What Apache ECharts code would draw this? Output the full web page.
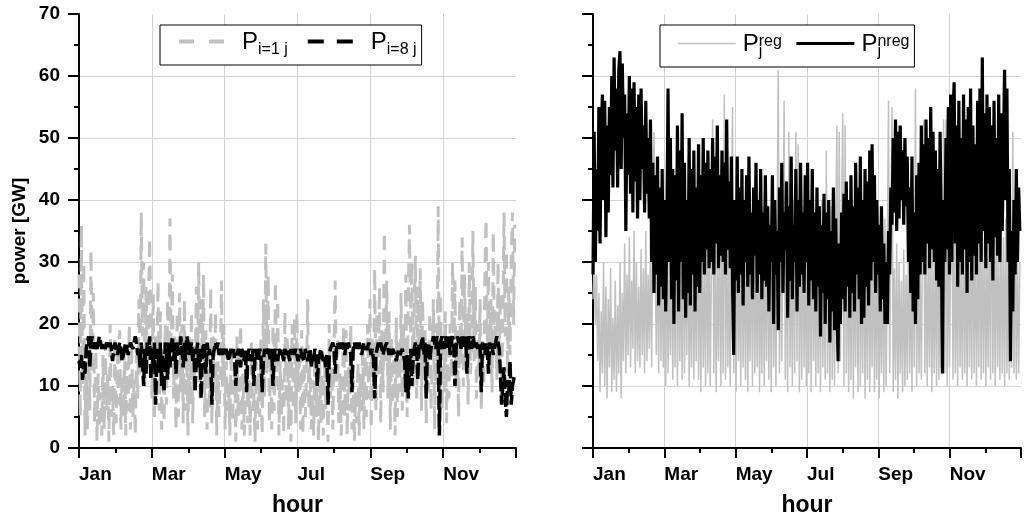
<!DOCTYPE html>
<html>
<head>
<meta charset="utf-8">
<script src="https://cdn.jsdelivr.net/npm/echarts@6/dist/echarts.min.js"></script>
<style>
  html, body { margin: 0; padding: 0; background: #fff; }
  #chart { width: 1024px; height: 522px; }
</style>
</head>
<body>
<div id="chart"></div>
<script>
// Month tick labels (one major tick every two months, minor tick in between)
const MONTHS = ['Jan', 'Feb', 'Mar', 'Apr', 'May', 'Jun', 'Jul', 'Aug', 'Sep', 'Oct', 'Nov', 'Dec'];
const HOURS_PER_YEAR = 8760;
const SAMPLE_STEP_H = 24; // one sample per day

// Power of unit i=1 [GW], daily samples
const pI1 = [
  28,5,36,10,30,2,14,3,18,6,
  32,12,25,4,16,1,12,3,9,2,
  15,3,17,6,12,1,20,5,10,2,
  18,4,15,7,19,3,12,5,16,2,
  14,6,20,3,17,5,11,2,15,8,
  24,12,38,18,30,10,26,14,22,34,
  20,8,25,5,18,12,27,6,22,3,
  16,4,20,7,24,12,37,15,28,8,
  18,3,22,5,25,9,20,4,24,6,
  15,2,18,7,22,4,17,9,26,12,
  30,8,24,14,28,5,19,3,15,6,
  26,4,18,9,22,2,14,5,12,27,
  10,20,3,14,6,11,2,16,4,9,
  13,1,18,5,10,20,3,12,2,8,
  15,4,11,2,17,6,9,1,14,3,
  12,5,18,2,24,8,33,12,28,4,
  16,3,20,6,27,10,24,2,14,5,
  11,2,22,7,18,3,15,1,20,6,
  21,4,22,9,16,3,19,2,14,5,
  12,24,6,15,3,11,2,15,5,13,
  1,14,4,12,2,15,6,10,1,20,
  8,13,3,16,27,10,18,4,12,2,
  9,20,5,19,2,13,6,20,3,11,
  1,9,4,14,2,12,6,17,3,15,
  5,20,8,24,3,18,10,29,6,22,
  12,26,4,19,9,35,14,27,8,22,
  3,18,7,15,2,21,5,17,9,25,
  6,20,12,28,5,24,36,18,30,10,
  22,31,8,26,14,29,6,24,11,19,
  4,17,9,22,6,14,24,3,20,10,
  39,12,25,6,18,9,22,4,16,8,
  20,11,30,14,27,9,19,5,24,13,
  34,10,28,16,22,7,30,12,18,35,
  14,26,8,20,11,24,6,18,10,28,
  37,15,30,12,24,9,35,16,22,11,
  30,14,25,10,20,38,18,32,12,26,
  15,30,38,20,36
];

// Power of unit i=8 [GW], daily samples
const pI8 = [
  14,13,15,11,14,12,16,17,18,13,
  17,18,16,17,17,16,17,18,17,16,
  17,17,16,17,17,16,17,16,14,16,
  17,16,15,16,17,16,14,15,16,17,
  16,15,16,17,17,16,17,18,17,15,
  16,13,17,14,10,16,12,17,15,18,
  11,16,13,17,7,14,16,12,17,10,
  15,9,17,16,11,17,13,16,18,14,
  17,12,16,17,15,18,16,13,17,14,
  18,17,15,16,17,14,16,9,15,17,
  13,16,8,15,17,16,12,17,15,16,
  14,7,15,16,17,16,17,15,16,15,
  16,16,15,16,15,14,15,16,15,16,
  14,10,15,16,15,13,16,15,14,16,
  9,15,16,15,14,16,10,15,16,14,
  15,16,15,9,14,16,15,15,16,15,
  14,16,10,15,16,15,14,16,15,16,
  15,14,16,15,16,15,14,16,15,16,
  15,16,15,14,15,16,15,15,14,16,
  15,14,15,16,13,15,14,16,15,10,
  14,15,16,15,14,15,13,15,7,15,
  16,16,17,16,12,16,17,16,17,16,
  17,16,15,17,16,17,16,15,9,16,
  17,16,17,16,17,16,15,16,17,16,
  16,16,17,16,15,16,14,8,15,16,
  17,16,17,16,15,16,16,17,16,15,
  16,15,16,16,15,14,15,16,15,15,
  16,15,14,9,15,8,13,16,10,14,
  16,17,16,11,17,16,17,18,15,17,
  8,16,17,14,16,17,18,17,16,18,
  17,2,17,18,17,16,18,17,16,18,
  15,17,18,17,10,16,18,17,18,16,
  18,17,16,18,12,17,18,17,16,18,
  17,16,17,16,17,16,9,17,16,15,
  17,16,12,17,16,17,15,16,17,18,
  17,16,12,7,10,13,8,5,11,9,
  14,7,10,10,12
];

// Regulated power [GW], daily samples
const pReg = [
  24,30,20,28,14,25,9,22,12,30,
  10,26,8,24,13,29,9,21,11,27,
  9,23,12,30,8,25,14,33,12,28,
  15,34,13,27,16,35,12,30,14,26,
  13,32,15,29,12,35,14,28,16,33,
  13,37,51,30,15,34,12,36,14,30,
  13,33,10,38,12,30,15,35,11,32,
  13,40,10,34,14,30,11,37,12,33,
  15,38,10,28,13,36,11,31,14,39,
  11,33,9,36,13,29,10,38,12,34,
  10,30,53,12,35,9,32,14,38,10,
  33,12,57,11,36,13,30,10,39,55,
  12,33,9,37,14,30,10,40,13,34,
  11,38,9,32,14,36,10,41,12,33,
  13,37,9,30,12,39,10,34,14,38,
  11,35,9,40,13,31,10,37,61,12,
  36,14,33,56,11,38,9,51,13,35,
  10,40,12,51,14,49,9,36,11,39,
  13,33,10,42,12,36,9,38,14,31,
  10,37,12,34,9,40,13,30,11,48,
  12,35,9,39,11,33,10,36,52,12,
  51,14,38,54,10,52,12,37,9,34,
  11,40,8,33,13,37,9,41,10,35,
  12,38,8,34,11,39,9,32,13,36,
  9,30,11,35,8,28,12,33,9,37,
  10,31,56,12,34,55,9,29,11,33,
  8,30,12,27,9,32,10,28,11,35,
  12,30,9,36,13,58,10,33,12,29,
  11,34,53,12,37,10,31,13,35,9,
  30,12,33,10,38,11,34,13,30,53,
  12,53,10,36,13,31,47,11,35,12,
  33,10,38,13,30,11,36,12,34,10,
  37,13,32,11,39,12,35,10,33,13,
  38,11,34,12,36,10,31,13,37,11,
  50,12,35,10,38,13,32,11,36,12,
  34,10,37,12,33,11,36,13,51,12,
  35,11,32,12,30
];

// Non-regulated power [GW], daily samples
const pNreg = [
  28,51,30,45,35,55,33,50,57,40,
  56,34,52,38,55,44,60,42,63,48,
  58,42,61,64,45,62,50,57,35,54,
  44,60,41,58,38,59,43,55,37,57,
  40,58,45,52,38,56,41,50,37,53,
  30,46,25,44,28,47,23,42,26,45,
  24,40,22,36,58,30,50,24,45,20,
  44,27,52,22,48,30,54,24,46,21,
  40,25,50,23,45,28,48,22,42,26,
  49,25,44,30,50,28,46,32,48,29,
  45,30,50,28,47,33,52,29,44,31,
  48,30,46,28,53,32,43,29,47,26,
  15,40,27,47,25,42,28,45,23,40,
  30,44,26,47,28,38,24,42,31,46,
  25,40,28,45,24,38,27,44,26,39,
  22,36,30,44,20,40,28,35,19,42,
  30,46,25,38,32,43,21,39,27,47,
  24,36,30,45,22,40,26,46,28,38,
  25,44,30,46,23,40,27,45,24,38,
  22,42,26,39,18,36,25,41,20,38,
  24,40,17,35,22,42,19,37,23,14,
  33,20,38,24,41,22,43,26,40,21,
  44,25,39,22,46,28,42,24,47,20,
  40,21,45,26,43,23,48,27,49,30,
  44,25,40,28,36,22,39,24,33,20,
  30,20,35,28,42,36,50,38,53,35,
  51,37,52,40,48,36,50,39,47,30,
  42,25,47,22,38,20,44,24,46,28,
  52,30,49,28,53,33,50,29,55,32,
  51,30,48,27,45,26,51,35,12,40,
  30,50,32,55,28,57,30,54,59,33,
  52,26,56,30,50,28,57,32,53,25,
  55,30,58,27,52,31,49,28,56,33,
  58,30,63,35,54,29,57,33,55,30,
  52,27,56,34,50,31,57,30,54,35,
  48,61,40,58,30,45,14,35,22,40,
  28,45,30,42,35
];

const FONT = '"Liberation Sans", Arial, Helvetica, sans-serif';
const GRAY = '#c0c0c0';
const GRID_GRAY = '#d2d2d2';

function toPairs(values) {
  return values.map((v, i) => [i * SAMPLE_STEP_H, v]);
}

function makeXAxis(gridIndex) {
  return {
    type: 'value', gridIndex: gridIndex,
    min: 0, max: HOURS_PER_YEAR, interval: HOURS_PER_YEAR / 6,
    name: 'hour', nameLocation: 'middle', nameGap: 46,
    nameTextStyle: { fontFamily: FONT, fontWeight: 'bold', fontSize: 23, color: '#000' },
    axisLine: { show: true, onZero: false, lineStyle: { color: '#000', width: 2 } },
    axisTick: { show: true, inside: false, length: 10, lineStyle: { color: '#000', width: 2 } },
    minorTick: { show: true, splitNumber: 2, length: 5, lineStyle: { color: '#000', width: 2 } },
    axisLabel: {
      fontFamily: FONT, fontWeight: 'bold', fontSize: 19, color: '#000',
      align: 'left', margin: 17,
      formatter: function (v) {
        const m = Math.round(v / (HOURS_PER_YEAR / 12));
        return m < 12 ? MONTHS[m] : '';
      }
    },
    splitLine: { show: true, showMinLine: false, showMaxLine: false, lineStyle: { color: GRID_GRAY, width: 1 } },
    minorSplitLine: { show: false }
  };
}

function makeYAxis(gridIndex, withLabels) {
  return {
    type: 'value', gridIndex: gridIndex,
    min: 0, max: 70, interval: 10,
    name: withLabels ? 'power [GW]' : '', nameLocation: 'middle', nameGap: 50, nameRotate: 90,
    nameTextStyle: { fontFamily: FONT, fontWeight: 'bold', fontSize: 19, color: '#000' },
    axisLine: { show: true, onZero: false, lineStyle: { color: '#000', width: 2 } },
    axisTick: { show: true, inside: false, length: 11, lineStyle: { color: '#000', width: 2 } },
    minorTick: { show: true, splitNumber: 2, length: 5, lineStyle: { color: '#000', width: 2 } },
    axisLabel: { show: withLabels, fontFamily: FONT, fontWeight: 'bold', fontSize: 19, color: '#000', margin: 19 },
    splitLine: { show: true, showMinLine: false, showMaxLine: false, lineStyle: { color: GRID_GRAY, width: 1 } },
    minorSplitLine: { show: false }
  };
}

// Legend labels with sub- and superscripts
const LEGEND_LABELS = {
  'P_i=1_j': '{p|P}{sub|i=1 j}',
  'P_i=8_j': '{p|P}{sub|i=8 j}',
  'P_j_reg': '{q|P}{subj|j}{sup|reg}',
  'P_j_nreg': '{q|P}{subj|j}{sup|nreg}'
};
const LEGEND_RICH = {
  p: { fontFamily: FONT, fontSize: 24, color: '#000', lineHeight: 28, verticalAlign: 'bottom', padding: [0, 0, 4, 13] },
  q: { fontFamily: FONT, fontSize: 24, color: '#000', lineHeight: 28, verticalAlign: 'bottom', padding: [0, 0, 4, 2] },
  sub: { fontFamily: FONT, fontSize: 16, color: '#000', lineHeight: 18, verticalAlign: 'bottom' },
  subj: { fontFamily: FONT, fontSize: 16, color: '#000', lineHeight: 18, verticalAlign: 'bottom', width: 0.01 },
  sup: { fontFamily: FONT, fontSize: 16, color: '#000', lineHeight: 18, verticalAlign: 'top', padding: [2, 0, 0, 0] }
};
const legendBase = {
  orient: 'horizontal', selectedMode: false,
  borderColor: '#000', borderWidth: 1, borderRadius: 0, backgroundColor: '#fff',
  itemHeight: 14,
  itemStyle: { opacity: 0 },
  textStyle: { fontFamily: FONT, color: '#000', rich: LEGEND_RICH, padding: [5, 0, 0, 0] },
  formatter: function (name) { return LEGEND_LABELS[name]; }
};

const option = {
  animation: false,
  backgroundColor: '#fff',
  grid: [
    { left: 79, top: 14, width: 437, height: 436 },
    { left: 593, top: 14, width: 437, height: 436 }
  ],
  xAxis: [makeXAxis(0), makeXAxis(1)],
  yAxis: [makeYAxis(0, true), makeYAxis(1, false)],
  legend: [
    Object.assign({}, legendBase, {
      left: 160, top: 25, padding: [5, 5, 7, 17], itemWidth: 45, itemGap: 18,
      data: [
        { name: 'P_i=1_j', lineStyle: { type: [15, 15], width: 4 } },
        { name: 'P_i=8_j', lineStyle: { type: [16, 13], width: 4 } }
      ]
    }),
    Object.assign({}, legendBase, {
      left: 660, top: 25, padding: [7, 5, 7, 17], itemWidth: 58, itemGap: 13,
      data: [
        { name: 'P_j_reg', lineStyle: { width: 1.5 } },
        { name: 'P_j_nreg', lineStyle: { width: 3 } }
      ]
    })
  ],
  series: [
    {
      name: 'P_i=1_j', type: 'line', xAxisIndex: 0, yAxisIndex: 0,
      data: toPairs(pI1), symbol: 'none', showSymbol: false,
      lineStyle: { color: GRAY, width: 3, type: [14, 10] }, itemStyle: { color: GRAY }, z: 2
    },
    {
      name: 'P_i=8_j', type: 'line', xAxisIndex: 0, yAxisIndex: 0,
      data: toPairs(pI8), symbol: 'none', showSymbol: false,
      lineStyle: { color: '#000', width: 3.5, type: [14, 4] }, itemStyle: { color: '#000' }, z: 3
    },
    {
      name: 'P_j_reg', type: 'line', xAxisIndex: 1, yAxisIndex: 1,
      data: toPairs(pReg), symbol: 'none', showSymbol: false,
      lineStyle: { color: GRAY, width: 1.5 }, itemStyle: { color: GRAY }, z: 2
    },
    {
      name: 'P_j_nreg', type: 'line', xAxisIndex: 1, yAxisIndex: 1,
      data: toPairs(pNreg), symbol: 'none', showSymbol: false,
      lineStyle: { color: '#000', width: 3.2 }, itemStyle: { color: '#000' }, z: 3
    }
  ]
};

const chart = echarts.init(document.getElementById('chart'), null, { renderer: 'canvas' });
chart.setOption(option);
</script>
</body>
</html>
